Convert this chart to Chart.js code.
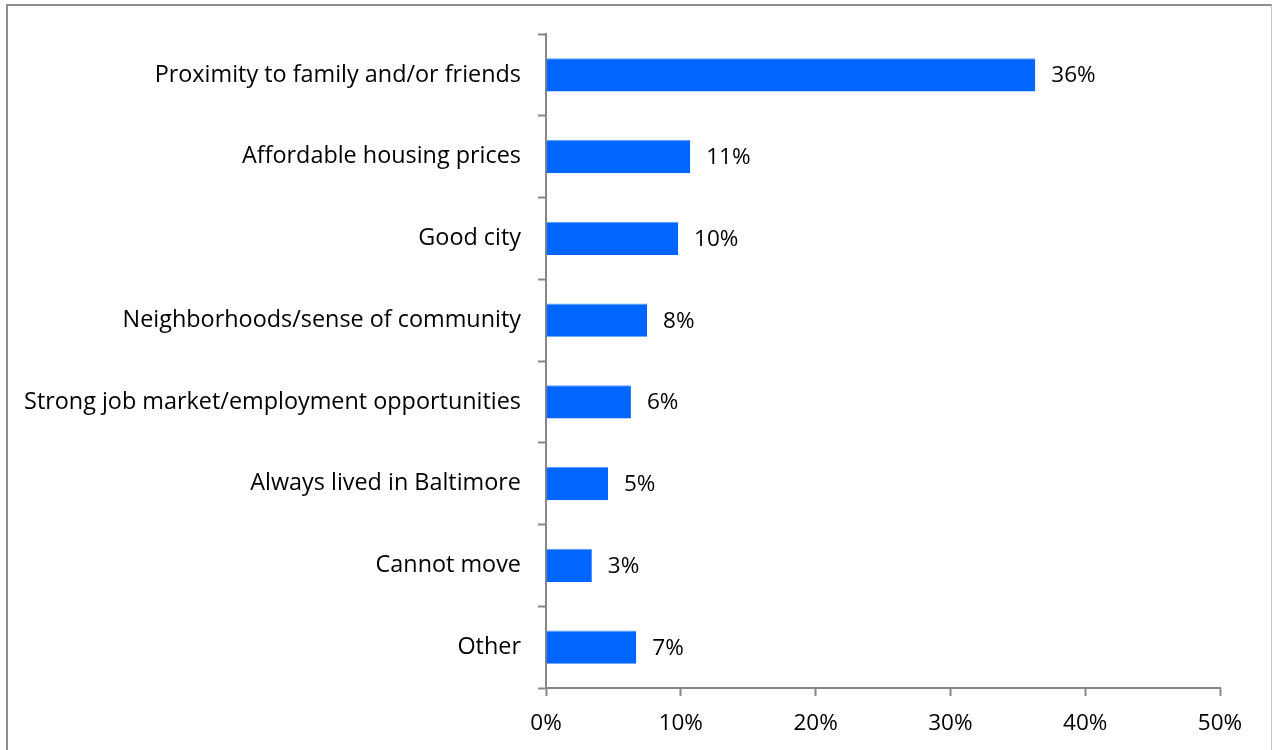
<!DOCTYPE html>
<html>
<head>
<meta charset="utf-8">
<script src="https://cdn.jsdelivr.net/npm/chart.js@4.4.1/dist/chart.umd.min.js"></script>
<style>
  html, body { margin: 0; padding: 0; background: #fff; overflow: hidden; }
  #wrap { position: relative; width: 1272px; height: 750px; }
  #frame {
    position: absolute; left: 6px; top: 4px; width: 1263px; height: 800px;
    border-left: 2px solid #8f8f8f; border-top: 2px solid #8f8f8f; border-right: 1px solid #c4c4c4;
    pointer-events: none;
  }
  canvas { position: absolute; left: 0; top: 0; }
</style>
</head>
<body>
<div id="wrap">
  <canvas id="reasons" width="1272" height="750"></canvas>
  <div id="frame"></div>
</div>
<script>
// Raisons de rester à Baltimore (% des répondants)
const categories = [
  'Proximity to family and/or friends',
  'Affordable housing prices',
  'Good city',
  'Neighborhoods/sense of community',
  'Strong job market/employment opportunities',
  'Always lived in Baltimore',
  'Cannot move',
  'Other'
];
const shares = [36.3, 10.7, 9.8, 7.5, 6.3, 4.6, 3.4, 6.7];
const xTicks = [0, 10, 20, 30, 40, 50];

const FONT = '"Open Sans", Lato, sans-serif';
const LABEL_SIZE = 23.4;
const TICK_SIZE = 22.5;
const AXIS_GREY = '#878787';

// Étiquettes de valeur à droite de chaque barre
const valueLabels = {
  id: 'valueLabels',
  afterDatasetsDraw(chart) {
    const ctx = chart.ctx;
    const meta = chart.getDatasetMeta(0);
    ctx.save();
    ctx.font = TICK_SIZE + 'px ' + FONT;
    ctx.fillStyle = '#000';
    ctx.textAlign = 'left';
    ctx.textBaseline = 'middle';
    meta.data.forEach((bar, i) => {
      ctx.fillText(Math.round(shares[i]) + '%', bar.x + 16, bar.y + 1);
    });
    ctx.restore();
  }
};

const ctx = document.getElementById('reasons').getContext('2d');
new Chart(ctx, {
  type: 'bar',
  data: {
    labels: categories,
    datasets: [{
      data: shares,
      backgroundColor: '#0066ff',
      borderColor: '#5c9dff',
      borderWidth: { top: 1, right: 0, bottom: 0, left: 0 },
      borderSkipped: false,
      barPercentage: 0.405,
      categoryPercentage: 1
    }]
  },
  options: {
    indexAxis: 'y',
    responsive: false,
    animation: false,
    layout: { padding: { top: 34, right: 52, bottom: 0, left: 0 } },
    plugins: {
      legend: { display: false },
      tooltip: { enabled: false }
    },
    scales: {
      x: {
        min: 0,
        max: 50,
        afterFit(scale) { scale.height = 62; },
        afterBuildTicks(scale) { scale.ticks = xTicks.map(v => ({ value: v })); },
        grid: {
          drawOnChartArea: false,
          drawTicks: true,
          tickLength: 8,
          tickWidth: 2,
          tickColor: AXIS_GREY
        },
        border: { display: true, color: AXIS_GREY, width: 2 },
        ticks: {
          color: '#000',
          font: { family: FONT, size: TICK_SIZE },
          padding: 14,
          maxRotation: 0,
          callback: v => v + '%'
        }
      },
      y: {
        afterFit(scale) { scale.width = 546; },
        grid: {
          offset: true,
          drawOnChartArea: false,
          drawTicks: true,
          tickLength: 8,
          tickWidth: 2,
          tickColor: AXIS_GREY
        },
        border: { display: true, color: AXIS_GREY, width: 2 },
        ticks: {
          color: '#000',
          font: { family: FONT, size: LABEL_SIZE },
          padding: 17,
          autoSkip: false
        }
      }
    }
  },
  plugins: [valueLabels]
});
</script>
</body>
</html>
